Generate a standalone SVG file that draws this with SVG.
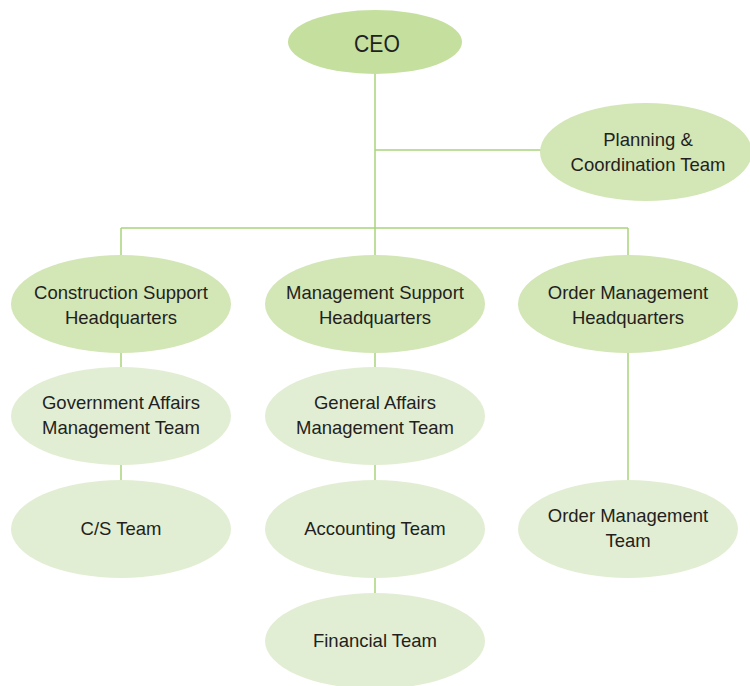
<svg xmlns="http://www.w3.org/2000/svg" width="750" height="686" viewBox="0 0 750 686">
<style>
.l{stroke:#a9d47c;stroke-width:1.5;fill:none}
.c0{fill:#c5df9f}
.c1{fill:#d3e6b6}
.c2{fill:#e2eed3}
text{font-family:"Liberation Sans",Arial,sans-serif;font-size:18.5px;fill:#231f20;text-anchor:middle}
</style>
<rect width="750" height="686" fill="#ffffff"/>
<g id="connectors">
<path class="l" d="M375 72V228M375 150H541M121 228H628M121 228V256M375 228V256M628 228V256"/>
<path class="l" d="M121 352V368M121 464V481M375 352V368M375 464V481M375 577V593M628 352V481"/>
</g>
<g id="ceo"><ellipse class="c0" cx="375" cy="42" rx="87" ry="32"/><text x="377" y="52" style="font-size:24px;transform-box:fill-box;transform-origin:center;transform:scaleX(0.88)">CEO</text></g>
<g id="planning"><ellipse class="c1" cx="646" cy="152" rx="106" ry="49"/><text x="648" y="146">Planning &amp;</text><text x="648" y="171">Coordination Team</text></g>
<g id="construction"><ellipse class="c1" cx="121" cy="304" rx="110" ry="49"/><text x="121" y="299">Construction Support</text><text x="121" y="324">Headquarters</text></g>
<g id="management"><ellipse class="c1" cx="375" cy="304" rx="110" ry="49"/><text x="375" y="299">Management Support</text><text x="375" y="324">Headquarters</text></g>
<g id="order"><ellipse class="c1" cx="628" cy="304" rx="110" ry="49"/><text x="628" y="299">Order Management</text><text x="628" y="324">Headquarters</text></g>
<g id="government"><ellipse class="c2" cx="121" cy="416" rx="110" ry="49"/><text x="121" y="409">Government Affairs</text><text x="121" y="434">Management Team</text></g>
<g id="cs"><ellipse class="c2" cx="121" cy="529" rx="110" ry="49"/><text x="121" y="535">C/S Team</text></g>
<g id="general"><ellipse class="c2" cx="375" cy="416" rx="110" ry="49"/><text x="375" y="409">General Affairs</text><text x="375" y="434">Management Team</text></g>
<g id="accounting"><ellipse class="c2" cx="375" cy="529" rx="110" ry="49"/><text x="375" y="535">Accounting Team</text></g>
<g id="financial"><ellipse class="c2" cx="375" cy="641" rx="110" ry="48"/><text x="375" y="647">Financial Team</text></g>
<g id="orderteam"><ellipse class="c2" cx="628" cy="529" rx="110" ry="49"/><text x="628" y="522">Order Management</text><text x="628" y="547">Team</text></g>
</svg>
